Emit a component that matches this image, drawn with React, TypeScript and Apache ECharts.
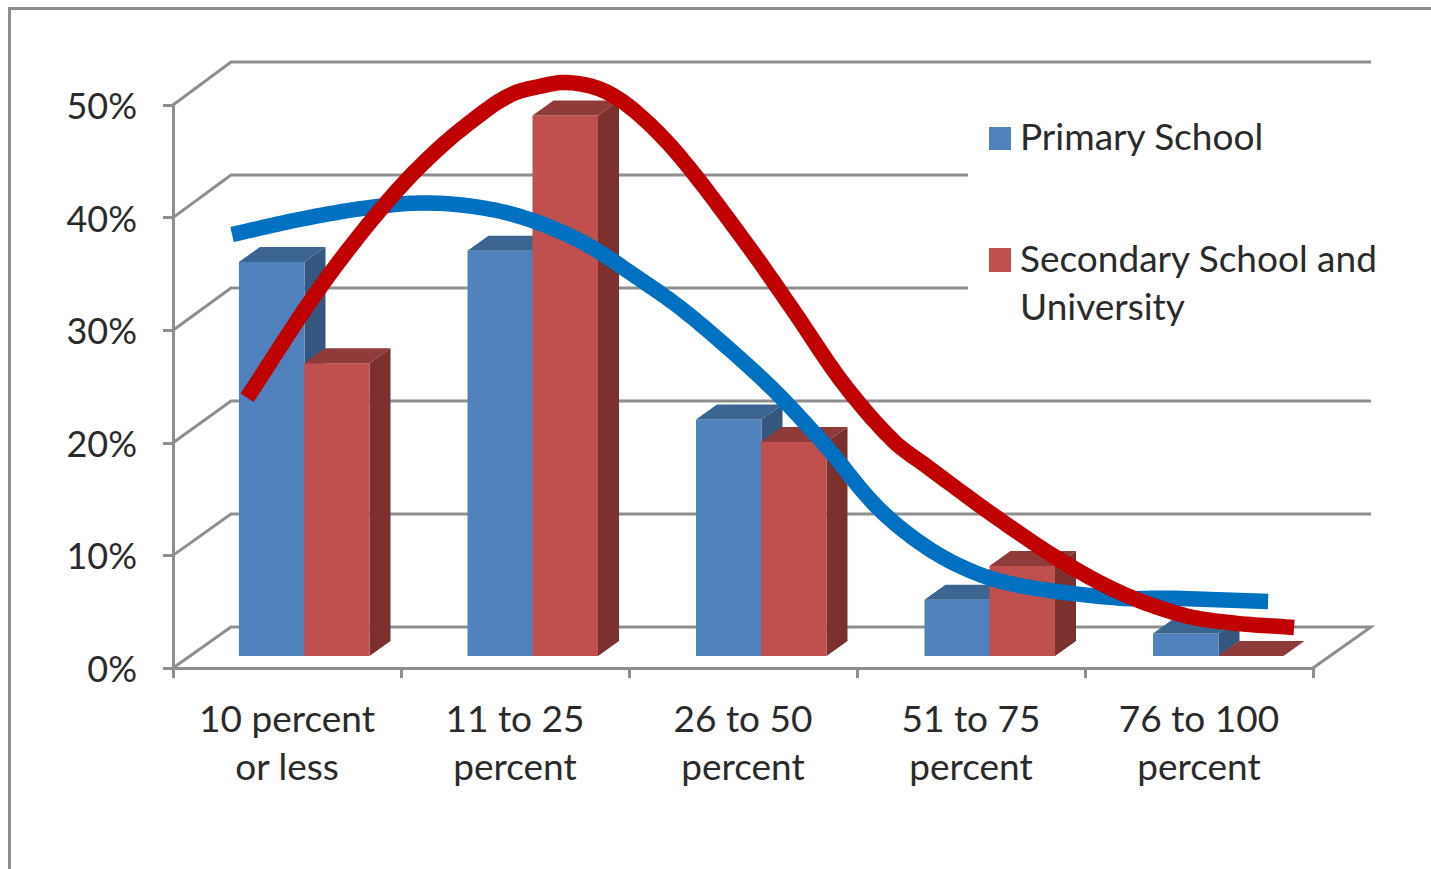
import React, { useEffect, useRef } from "react";
import * as echarts from "echarts";

const categories = ["10 percent\nor less", "11 to 25\npercent", "26 to 50\npercent", "51 to 75\npercent", "76 to 100\npercent"];
const primaryValues = [35, 36, 21, 5, 2];
const secondaryValues = [26, 48, 19, 8, 0];
const yTicks = [0, 10, 20, 30, 40, 50];

// trend curves: [position along the category axis (0..5), percent]
const primaryTrend = [
  [0.259, 38.5], [0.57, 39.9], [0.864, 40.9], [1.114, 41.3], [1.377, 40.8], [1.596, 39.6],
  [1.816, 37.6], [2.035, 34.7], [2.224, 32.0], [2.43, 28.5], [2.649, 24.4], [2.868, 19.6],
  [3.088, 14.3], [3.307, 10.7], [3.526, 8.4], [3.746, 7.2], [4.154, 6.2], [4.36, 6.2], [4.803, 5.9],
];
const secondaryTrend = [
  [0.325, 24.0], [0.645, 33.8], [0.939, 41.4], [1.158, 46.0], [1.377, 49.6], [1.491, 51.0], [1.596, 51.6],
  [1.728, 52.0], [1.886, 51.3], [2.035, 49.3], [2.224, 45.4], [2.518, 37.6], [2.719, 31.8],
  [2.939, 25.3], [3.158, 20.2], [3.307, 17.9], [3.596, 13.6], [3.89, 9.6], [4.154, 6.7],
  [4.43, 4.7], [4.649, 4.0], [4.917, 3.6],
];

const FONT = "Lato";
const TEXT = "#2a2a2a";
const GREY = "#8e8e8e";
const GRID = { left: 173, top: 105, width: 1140, height: 563 };
const WALL_DX = 58;
const WALL_DY = -41;
const WALL_STRETCH = 0.04;
const BAR_W = 65.5;
const BAR_SHIFT_Y = -12;
const BAR_DRIFT = 0.5;
const SIDE_DX = 21;
const SIDE_DY = -15;
const CURVE_STEPS = 14;

function bar3d(offset: number, front: string, top: string, side: string) {
  return (_p: any, api: any) => {
    const i = api.value(0);
    const [cx, ty] = api.coord([i, api.value(1)]);
    const base = api.coord([i, 0])[1] + BAR_SHIFT_Y;
    const y = ty + BAR_SHIFT_Y;
    const x0 = cx + offset + i * BAR_DRIFT;
    const x1 = x0 + BAR_W;
    const poly = (points: number[][], fill: string) => ({ type: "polygon", shape: { points }, style: { fill } });
    const children: any[] = [];
    if (y < base) {
      children.push(poly([[x1, y], [x1 + SIDE_DX, y + SIDE_DY], [x1 + SIDE_DX, base + SIDE_DY], [x1, base]], side));
      children.push(poly([[x0, y], [x1, y], [x1, base], [x0, base]], front));
    }
    children.push(poly([[x0, y], [x0 + SIDE_DX, y + SIDE_DY], [x1 + SIDE_DX, y + SIDE_DY], [x1, y]], top));
    return { type: "group", children };
  };
}

function wallLine(_p: any, api: any) {
  const v = api.value(0);
  const y = api.coord([0, v])[1];
  const left = GRID.left;
  const right = GRID.left + GRID.width;
  const backY = y + WALL_DY - v * WALL_STRETCH;
  const points = [[left, y], [left + WALL_DX, backY], [right + WALL_DX, backY]];
  if (v === 0) points.push([right, y]);
  return { type: "polyline", shape: { points }, style: { stroke: GREY, lineWidth: 3, fill: "none" } };
}

// Spline through the plotted points (Hermite with chord-length tangents).
function spline(p: number[][]) {
  const t = [0];
  for (let i = 1; i < p.length; i++) t.push(t[i - 1] + Math.hypot(p[i][0] - p[i - 1][0], p[i][1] - p[i - 1][1]));
  const tan = p.map((pt, i) => {
    const a = p[Math.max(i - 1, 0)];
    const b = p[Math.min(i + 1, p.length - 1)];
    const dt = t[Math.min(i + 1, p.length - 1)] - t[Math.max(i - 1, 0)];
    return [(b[0] - a[0]) / dt, (b[1] - a[1]) / dt];
  });
  const out: number[][] = [];
  for (let i = 0; i < p.length - 1; i++) {
    const h = t[i + 1] - t[i];
    for (let s = 0; s < CURVE_STEPS; s++) {
      const u = s / CURVE_STEPS;
      const u2 = u * u;
      const u3 = u2 * u;
      const a = 2 * u3 - 3 * u2 + 1;
      const b = u3 - 2 * u2 + u;
      const c = -2 * u3 + 3 * u2;
      const d = u3 - u2;
      out.push([
        a * p[i][0] + b * h * tan[i][0] + c * p[i + 1][0] + d * h * tan[i + 1][0],
        a * p[i][1] + b * h * tan[i][1] + c * p[i + 1][1] + d * h * tan[i + 1][1],
      ]);
    }
  }
  out.push(p[p.length - 1]);
  return out;
}

function trendCurve(trend: number[][], color: string) {
  return (params: any, api: any) => {
    if (params.dataIndex !== 0) return null;
    const pixels = trend.map((d) => api.coord(d));
    return {
      type: "polyline",
      shape: { points: spline(pixels) },
      style: { stroke: color, lineWidth: 15.5, fill: "none", lineCap: "butt", lineJoin: "round" },
    };
  };
}

const legendText = (text: string, x: number, y: number) => ({
  type: "text",
  z: 6,
  x,
  y,
  style: { text, fill: TEXT, font: `37px ${FONT}` },
});

export default function App() {
  const ref = useRef<HTMLDivElement>(null);
  useEffect(() => {
    document.body.style.margin = "0";
    const chart = echarts.init(ref.current!, undefined, { renderer: "svg" });
    chart.setOption({
      animation: false,
      backgroundColor: "#ffffff",
      grid: { ...GRID, containLabel: false },
      xAxis: [
        {
          type: "category",
          data: categories,
          axisLine: { lineStyle: { color: GREY, width: 3 } },
          axisTick: { show: true, length: 10, alignWithLabel: false, lineStyle: { color: GREY, width: 3 } },
          axisLabel: { color: TEXT, fontFamily: FONT, fontSize: 37, lineHeight: 48, margin: 25, interval: 0 },
        },
        { type: "value", min: 0, max: 5, show: false },
      ],
      yAxis: {
        type: "value",
        min: 0,
        max: 50,
        interval: 10,
        axisLine: { show: true, lineStyle: { color: GREY, width: 3 } },
        axisTick: { show: true, length: 10, lineStyle: { color: GREY, width: 3 } },
        splitLine: { show: false },
        axisLabel: { color: TEXT, fontFamily: FONT, fontSize: 36, margin: 36, formatter: "{value}%" },
      },
      series: [
        { type: "custom", name: "Gridlines", z: 1, clip: false, silent: true, renderItem: wallLine, data: yTicks.map((v) => [v]), encode: { y: 0 } },
        {
          type: "custom",
          name: "Primary School",
          z: 3,
          clip: false,
          renderItem: bar3d(-48, "#4f81bd", "#3b6491", "#34567f"),
          data: primaryValues.map((v, i) => [i, v]),
          encode: { x: 0, y: 1 },
        },
        {
          type: "custom",
          name: "Secondary School and University",
          z: 3,
          clip: false,
          renderItem: bar3d(17, "#c0504d", "#8f3b39", "#7b302e"),
          data: secondaryValues.map((v, i) => [i, v]),
          encode: { x: 0, y: 1 },
        },
        {
          type: "custom",
          name: "Primary School trend",
          xAxisIndex: 1,
          z: 4,
          clip: false,
          renderItem: trendCurve(primaryTrend, "#0070c0"),
          data: primaryTrend,
          encode: { x: 0, y: 1 },
        },
        {
          type: "custom",
          name: "Secondary School and University trend",
          xAxisIndex: 1,
          z: 5,
          clip: false,
          renderItem: trendCurve(secondaryTrend, "#c00000"),
          data: secondaryTrend,
          encode: { x: 0, y: 1 },
        },
      ],
      graphic: {
        elements: [
          {
            type: "polyline",
            z: 0,
            shape: { points: [[9.5, 869], [9.5, 8.5], [1431, 8.5]] },
            style: { stroke: GREY, lineWidth: 3, fill: "none" },
          },
          { type: "rect", z: 2, shape: { x: 968, y: 120, width: 412, height: 210 }, style: { fill: "#ffffff" } },
          { type: "rect", z: 6, shape: { x: 989, y: 127, width: 22, height: 23 }, style: { fill: "#4f81bd" } },
          { type: "rect", z: 6, shape: { x: 989, y: 248, width: 22, height: 24 }, style: { fill: "#c0504d" } },
          legendText("Primary School", 1020, 117),
          legendText("Secondary School and", 1020, 239),
          legendText("University", 1020, 287),
        ],
      },
    });
    return () => chart.dispose();
  }, []);
  return <div ref={ref} style={{ position: "absolute", left: 0, top: 0, width: 1431, height: 869 }} />;
}
